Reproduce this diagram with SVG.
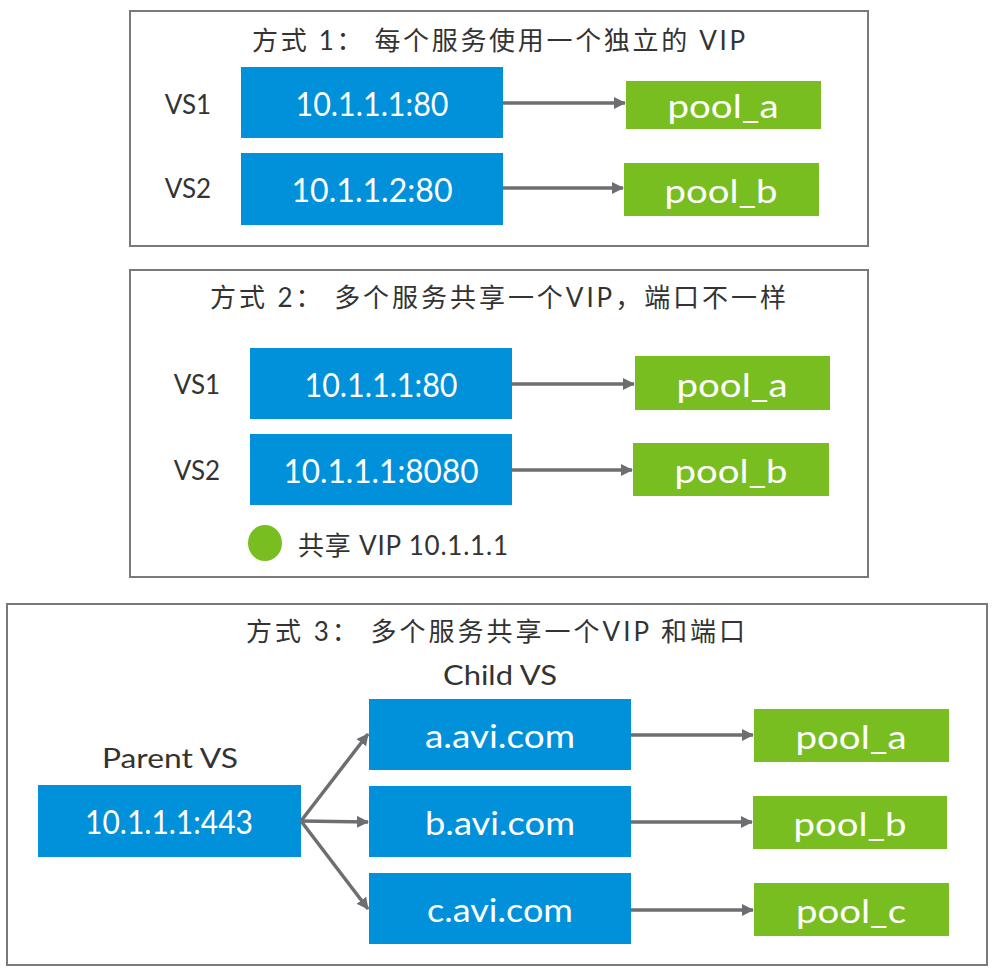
<svg xmlns="http://www.w3.org/2000/svg" width="994" height="972" viewBox="0 0 994 972">
<defs>
<marker id="ah" viewBox="0 0 12 12" refX="11" refY="6" markerWidth="12" markerHeight="12" markerUnits="userSpaceOnUse" orient="auto">
<path d="M0,0 L12,6 L0,12 z" fill="#6d6e71"/>
</marker>
</defs>
<style>
.frame{fill:#ffffff;stroke:#7a7a7a;stroke-width:2}
.vs{fill:#0091da}
.pool{fill:#78be20}
.wt{fill:#ffffff;font-family:Lato,"Open Sans","Noto Sans CJK SC",sans-serif;font-size:32px;text-anchor:middle;dominant-baseline:central}
.lbl{fill:#333333;font-family:Lato,"Open Sans","Noto Sans CJK SC",sans-serif;font-size:26px;text-anchor:middle;dominant-baseline:central}
.ttl{fill:#333333;font-family:Lato,"Noto Sans CJK SC",sans-serif;font-size:26px;dominant-baseline:central}
.conn{stroke:#6d6e71;stroke-width:3.5;fill:none;marker-end:url(#ah)}
</style>
<rect width="994" height="972" fill="#ffffff"/>

<g id="frame1">
<rect class="frame" x="130" y="11" width="738" height="235"/>
<text class="ttl" x="252" y="40" textLength="493" lengthAdjust="spacing">方式 1：  每个服务使用一个独立的 VIP</text>
<text class="lbl" x="188" y="104">VS1</text>
<text class="lbl" x="188" y="188">VS2</text>
</g>
<g id="f1-vs1"><rect class="vs" x="241" y="67" width="262" height="71"/><text class="wt" x="372" y="103" textLength="153" lengthAdjust="spacingAndGlyphs">10.1.1.1:80</text></g>
<g id="f1-vs2"><rect class="vs" x="241" y="153" width="262" height="72"/><text class="wt" x="372" y="189" textLength="161" lengthAdjust="spacingAndGlyphs">10.1.1.2:80</text></g>
<g id="f1-pool_a"><rect class="pool" x="626" y="81" width="195" height="48"/><text class="wt" x="723" y="105" textLength="111" lengthAdjust="spacingAndGlyphs">pool_a</text></g>
<g id="f1-pool_b"><rect class="pool" x="624" y="163" width="195" height="53"/><text class="wt" x="721" y="190" textLength="113" lengthAdjust="spacingAndGlyphs">pool_b</text></g>

<g id="frame2">
<rect class="frame" x="130" y="270" width="738" height="307"/>
<text class="ttl" x="210" y="297" textLength="576" lengthAdjust="spacing">方式 2：  多个服务共享一个VIP，端口不一样</text>
<text class="lbl" x="197" y="384">VS1</text>
<text class="lbl" x="197" y="470">VS2</text>
</g>
<g id="f2-vs1"><rect class="vs" x="250" y="348" width="262" height="71"/><text class="wt" x="381" y="384" textLength="153" lengthAdjust="spacingAndGlyphs">10.1.1.1:80</text></g>
<g id="f2-vs2"><rect class="vs" x="250" y="434" width="262" height="71"/><text class="wt" x="381" y="470" textLength="195" lengthAdjust="spacingAndGlyphs">10.1.1.1:8080</text></g>
<g id="f2-pool_a"><rect class="pool" x="635" y="356" width="195" height="54"/><text class="wt" x="732" y="384" textLength="111" lengthAdjust="spacingAndGlyphs">pool_a</text></g>
<g id="f2-pool_b"><rect class="pool" x="633" y="443" width="196" height="53"/><text class="wt" x="731" y="470" textLength="113" lengthAdjust="spacingAndGlyphs">pool_b</text></g>
<g id="f2-legend">
<ellipse cx="265" cy="543" rx="17" ry="18" fill="#78be20"/>
<text x="298" y="545" textLength="210" lengthAdjust="spacing" style="fill:#333333;font-family:Lato,'Noto Sans CJK SC',sans-serif;font-size:26px;dominant-baseline:central">共享 VIP 10.1.1.1</text>
</g>

<g id="frame3">
<rect class="frame" x="7" y="604" width="980" height="361"/>
<text class="ttl" x="246" y="631" textLength="499" lengthAdjust="spacing">方式 3：  多个服务共享一个VIP 和端口</text>
<text class="lbl" x="500" y="675" textLength="114" lengthAdjust="spacingAndGlyphs">Child VS</text>
<text class="lbl" x="170" y="758" textLength="136" lengthAdjust="spacingAndGlyphs">Parent VS</text>
</g>
<g id="f3-parent"><rect class="vs" x="38" y="785" width="263" height="72"/><text class="wt" x="169" y="821" textLength="168" lengthAdjust="spacingAndGlyphs">10.1.1.1:443</text></g>
<g id="f3-a"><rect class="vs" x="369" y="699" width="262" height="71"/><text class="wt" x="500" y="735" textLength="150" lengthAdjust="spacingAndGlyphs">a.avi.com</text></g>
<g id="f3-b"><rect class="vs" x="369" y="786" width="262" height="71"/><text class="wt" x="500" y="822" textLength="150" lengthAdjust="spacingAndGlyphs">b.avi.com</text></g>
<g id="f3-c"><rect class="vs" x="369" y="873" width="262" height="71"/><text class="wt" x="500" y="909" textLength="146" lengthAdjust="spacingAndGlyphs">c.avi.com</text></g>
<g id="f3-pool_a"><rect class="pool" x="754" y="709" width="195" height="53"/><text class="wt" x="851" y="736" textLength="111" lengthAdjust="spacingAndGlyphs">pool_a</text></g>
<g id="f3-pool_b"><rect class="pool" x="753" y="796" width="194" height="53"/><text class="wt" x="850" y="823" textLength="113" lengthAdjust="spacingAndGlyphs">pool_b</text></g>
<g id="f3-pool_c"><rect class="pool" x="754" y="883" width="195" height="53"/><text class="wt" x="851" y="910" textLength="110" lengthAdjust="spacingAndGlyphs">pool_c</text></g>

<g id="connectors">
<line class="conn" x1="503" y1="103" x2="625" y2="103"/>
<line class="conn" x1="503" y1="188" x2="623" y2="188"/>
<line class="conn" x1="512" y1="384" x2="634" y2="384"/>
<line class="conn" x1="512" y1="470" x2="632" y2="470"/>
<line class="conn" x1="301" y1="821" x2="368" y2="734"/>
<line class="conn" x1="301" y1="821" x2="368" y2="822"/>
<line class="conn" x1="301" y1="821" x2="368" y2="909"/>
<line class="conn" x1="631" y1="735" x2="753" y2="735"/>
<line class="conn" x1="631" y1="822" x2="752" y2="822"/>
<line class="conn" x1="631" y1="910" x2="753" y2="910"/>
</g>
</svg>
